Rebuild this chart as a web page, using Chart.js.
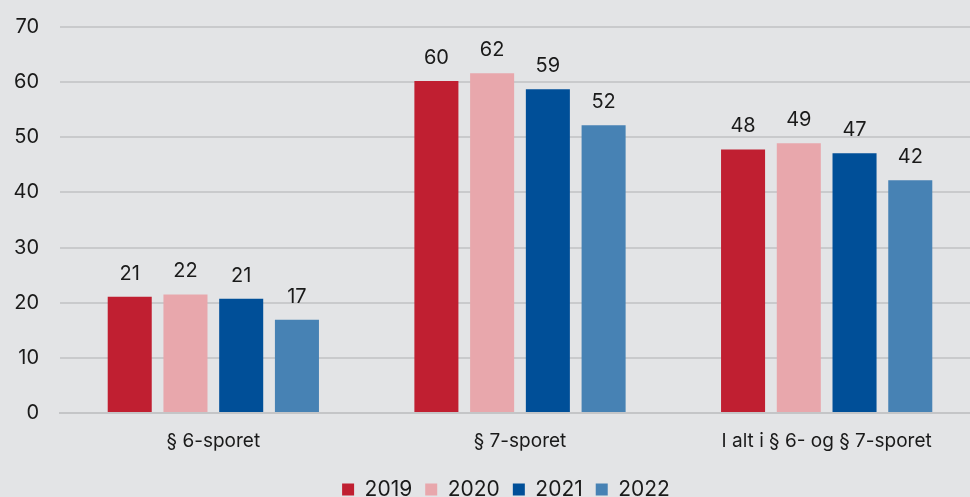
<!DOCTYPE html>
<html><head><meta charset="utf-8">
<script src="https://cdn.jsdelivr.net/npm/chart.js@4"></script>
<style>html,body{margin:0;padding:0;background:#e3e4e6;overflow:hidden;}#wrap{width:970px;height:497px;overflow:hidden;}#c{display:block;margin-top:-6px;}</style>
</head><body><div id="wrap"><canvas id="c" width="980" height="516"></canvas></div>
<script>
const categories = ["§ 6-sporet", "§ 7-sporet", "I alt i § 6- og § 7-sporet"];
const years = ["2019", "2020", "2021", "2022"];
const v2019 = [21.1, 60.2, 47.8];
const v2020 = [21.5, 61.6, 48.9];
const v2021 = [20.7, 58.7, 47.1];
const v2022 = [16.9, 52.2, 42.2];
const colors = ["#c01f31", "#e8a7ac", "#004f98", "#4782b4"];
const yTicks = [0, 10, 20, 30, 40, 50, 60, 70];

const series = [v2019, v2020, v2021, v2022];
const FONT = "Inter, 'Noto Sans', sans-serif";

const labelPlugin = {
  id: 'barLabels',
  afterLayout(chart) {
    const lg = chart.legend;
    if (lg) { lg.left += 16; lg.right += 16; }
  },
  afterDatasetsDraw(chart) {
    const ctx = chart.ctx;
    ctx.save();
    ctx.font = "20px " + FONT;
    ctx.fillStyle = "#1a1a1a";
    ctx.textAlign = "center";
    ctx.textBaseline = "alphabetic";
    chart.data.datasets.forEach((ds, i) => {
      const meta = chart.getDatasetMeta(i);
      meta.data.forEach((bar, j) => {
        ctx.fillText(Math.round(ds.data[j]).toString(), bar.x, bar.y - 17);
      });
    });
    ctx.restore();
  }
};

new Chart(document.getElementById('c'), {
  type: 'bar',
  data: {
    labels: categories,
    datasets: years.map((y, i) => ({
      label: y,
      data: series[i],
      backgroundColor: colors[i],
      categoryPercentage: 0.727,
      barPercentage: 0.79
    }))
  },
  options: {
    responsive: false,
    animation: false,
    layout: { padding: { left: 0, right: 0, top: 1, bottom: 0 } },
    plugins: {
      tooltip: { enabled: false },
      legend: {
        position: 'bottom',
        labels: {
          boxWidth: 12, boxHeight: 12, padding: 13,
          color: "#1a1a1a",
          font: { family: FONT, size: 21 }
        }
      }
    },
    scales: {
      x: {
        afterFit(axis) { axis.height = 53; },
        grid: { display: false, drawTicks: false },
        border: { display: true, color: "#c4c5c7", width: 2 },
        ticks: { color: "#1a1a1a", font: { family: FONT, size: 19 }, padding: 17 }
      },
      y: {
        min: 0, max: 70,
        afterBuildTicks(axis) { axis.ticks = yTicks.map(v => ({ value: v })); },
        afterFit(axis) { axis.width = 60; },
        grid: { color: "#c9cacc", lineWidth: 2, drawTicks: false },
        border: { display: false },
        ticks: { color: "#1a1a1a", font: { family: FONT, size: 20 }, padding: 21 }
      }
    }
  },
  plugins: [labelPlugin]
});
</script></body></html>
